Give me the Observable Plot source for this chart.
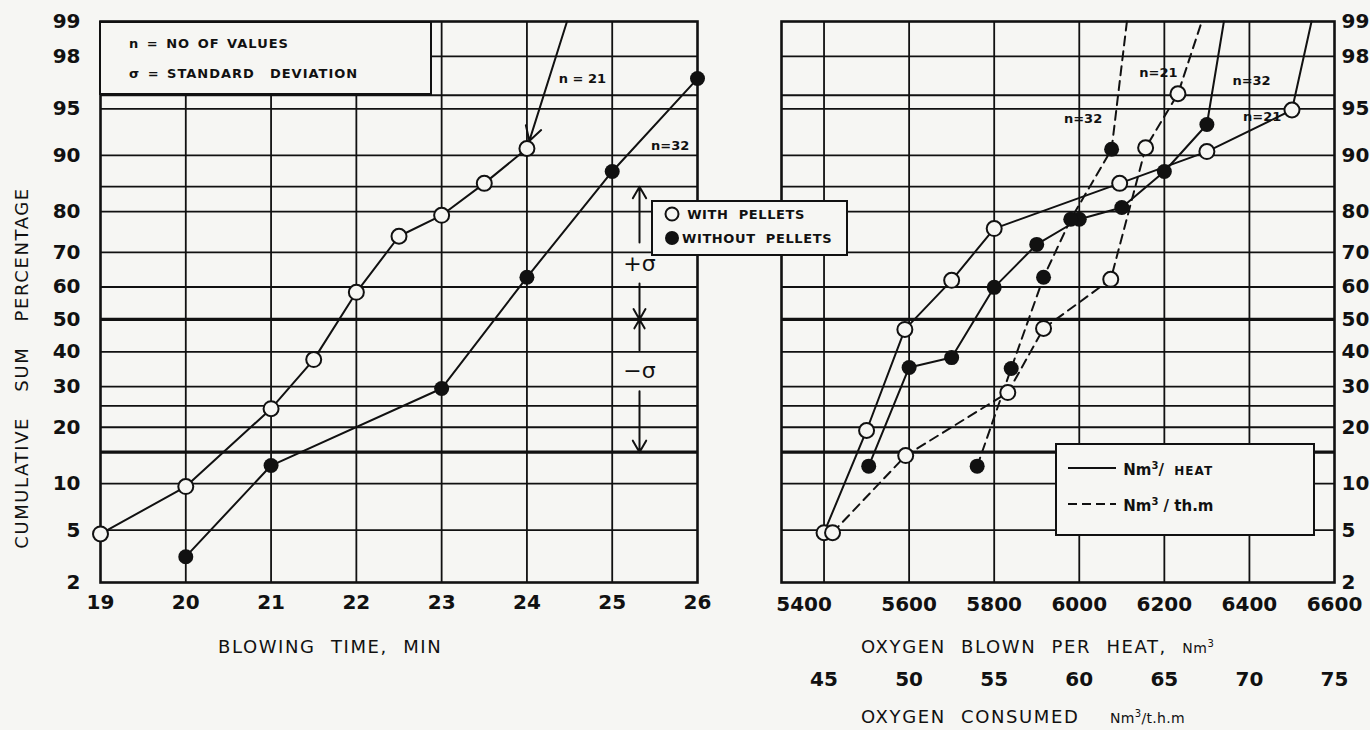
<!DOCTYPE html>
<html><head><meta charset="utf-8">
<script src="https://cdn.jsdelivr.net/npm/d3@7"></script>
<script src="https://cdn.jsdelivr.net/npm/@observablehq/plot@0.6"></script>
<style>
body{margin:0;background:#f6f6f3;}
#wrap{position:relative;width:1370px;height:730px;overflow:hidden;font-family:"DejaVu Sans",sans-serif;color:#111;}
#left,#right{position:absolute;top:0;}
#left{left:0;} #right{left:700px;}
.box{position:absolute;background:#f6f6f3;border:2px solid #111;box-sizing:border-box;z-index:5;}
.t{position:absolute;white-space:nowrap;z-index:6;}
.b13{font-size:13px;font-weight:bold;letter-spacing:1px;}
.ttl{font-size:18px;letter-spacing:1.6px;word-spacing:8px;}
</style></head><body><div id="wrap">
<div id="left"></div><div id="right"></div>
<div class="box" style="left:99px;top:21px;width:333px;height:74px;"></div>
<div class="t b13" style="left:129px;top:36px;word-spacing:2px;">n = NO OF VALUES</div>
<div class="t b13" style="left:129px;top:66px;word-spacing:2px;">σ = STANDARD&nbsp; DEVIATION</div>
<div class="box" style="left:651px;top:200px;width:197px;height:56px;"></div>
<div class="t b13" style="left:664px;top:206px;letter-spacing:0.6px;"><svg width="18" height="16" style="vertical-align:-3px"><circle cx="8" cy="8" r="6.5" fill="#f6f6f3" stroke="#111" stroke-width="2"/></svg> WITH&nbsp; PELLETS</div>
<div class="t b13" style="left:664px;top:230px;letter-spacing:0.6px;"><svg width="18" height="16" style="vertical-align:-3px"><circle cx="8" cy="8" r="7" fill="#111"/></svg>WITHOUT&nbsp; PELLETS</div>
<div class="box" style="left:1055px;top:443px;width:260px;height:93px;"></div>
<div class="t" style="left:1066px;top:460px;font-size:15px;font-weight:bold;"><svg width="52" height="10" style="vertical-align:2px"><line x1="2" x2="50" y1="5" y2="5" stroke="#111" stroke-width="2"/></svg> Nm<sup style="font-size:10px">3</sup>/ &nbsp;<span style="font-size:12px;letter-spacing:1px">HEAT</span></div>
<div class="t" style="left:1066px;top:496px;font-size:15px;font-weight:bold;"><svg width="52" height="10" style="vertical-align:2px"><line x1="2" x2="50" y1="5" y2="5" stroke="#111" stroke-width="2" stroke-dasharray="9,5"/></svg> Nm<sup style="font-size:10px">3</sup> / th.m</div>
<div class="t ttl" style="left:21px;top:368px;transform:translate(-50%,-50%) rotate(-90deg);word-spacing:18px;">CUMULATIVE SUM PERCENTAGE</div>
<div class="t ttl" style="left:218px;top:636px;">BLOWING TIME, MIN</div>
<div class="t ttl" style="left:861px;top:636px;">OXYGEN BLOWN PER HEAT, <span style="font-size:14px;letter-spacing:0.5px">Nm<sup style="font-size:10px">3</sup></span></div>
<div class="t ttl" style="left:861px;top:706px;">OXYGEN CONSUMED &nbsp;<span style="font-size:14px;letter-spacing:0.3px">Nm<sup style="font-size:10px">3</sup>/t.h.m</span></div>
</div>
<script>
// ---------- data ----------
const pctTicks = [2,5,10,20,30,40,50,60,70,80,90,95,98,99];
const pctGrid = [5,10,20,25,30,40,60,70,80,85,90,95,96,98];
const pctThick = [15,50];
const timeTicks = [19,20,21,22,23,24,25,26];
// left panel: blowing time
const timeWith = [19,20,21,21.5,22,22.5,23,23.5,24];
const pctWith  = [4.7,9.6,24.3,37.7,58.4,74.2,79.2,85.6,90.9];
const timeWithTop = 24.47;
const timeWithout = [20,21,23,24,25,26];
const pctWithout  = [3.2,12.7,29.5,62.9,87.6,97.0];
// right panel: oxygen blown per heat (Nm3)
const o2Ticks = [5400,5600,5800,6000,6200,6400,6600];
const thmTicks = [45,50,55,60,65,70,75];
const heatWithX = [5400,5500,5590,5700,5800,6095,6300,6500];
const heatWithP = [4.8,19.3,46.9,62.0,76.1,85.6,90.5,94.9];
const heatWithTop = 6546;
const heatWithoutX = [5505,5600,5700,5800,5900,6000,6100,6200,6300];
const heatWithoutP = [12.6,35.4,38.3,59.9,72.1,78.3,80.9,87.6,93.6];
const heatWithoutTop = 6340;
// oxygen consumed (Nm3/t.h.m)
const thmWithX = [45.5,49.8,55.8,57.9,61.85,63.9,65.8];
const thmWithP = [4.8,14.4,28.4,47.2,62.3,91.0,96.1];
const thmWithTop = 67.2;
const thmWithoutX = [54.0,56.0,57.9,59.5,61.9];
const thmWithoutP = [12.6,35.1,62.9,78.3,90.8];
const thmWithoutTop = 62.8;

// ---------- helpers ----------
function probit(p){
 const a=[-3.969683028665376e+01,2.209460984245205e+02,-2.759285104469687e+02,1.383577518672690e+02,-3.066479806614716e+01,2.506628277459239e+00];
 const b=[-5.447609879822406e+01,1.615858368580409e+02,-1.556989798598866e+02,6.680131188771972e+01,-1.328068155288572e+01];
 const c=[-7.784894002430293e-03,-3.223964580411365e-01,-2.400758277161838e+00,-2.549732539343734e+00,4.374664141464968e+00,2.938163982698783e+00];
 const d=[7.784695709041462e-03,3.224671290700398e-01,2.445134137142996e+00,3.754408661907416e+00];
 const pl=0.02425, ph=1-pl; let q,r;
 if(p<pl){q=Math.sqrt(-2*Math.log(p));return (((((c[0]*q+c[1])*q+c[2])*q+c[3])*q+c[4])*q+c[5])/((((d[0]*q+d[1])*q+d[2])*q+d[3])*q+1);}
 if(p>ph){q=Math.sqrt(-2*Math.log(1-p));return -(((((c[0]*q+c[1])*q+c[2])*q+c[3])*q+c[4])*q+c[5])/((((d[0]*q+d[1])*q+d[2])*q+d[3])*q+1);}
 q=p-0.5;r=q*q;return (((((a[0]*r+a[1])*r+a[2])*r+a[3])*r+a[4])*r+a[5])*q/(((((b[0]*r+b[1])*r+b[2])*r+b[3])*r+b[4])*r+1);
}
const Z = p => probit(p/100);
const zTicks = pctTicks.map(Z);
const zLabel = new Map(pctTicks.map(p => [Z(p), String(p)]));
const toO2 = v => 5400 + (v - 45) * 40;   // Nm3/t.h.m -> Nm3 axis
const rows = (xs, ps) => xs.map((x, i) => ({x, z: Z(ps[i])}));
const ink = "#111", bg = "#f6f6f3";
const font = {background:"transparent", fontFamily:"DejaVu Sans, sans-serif", color:ink, overflow:"visible"};
const tickFont = {fontSize: 20, fontWeight: "bold"};

const withRows = rows(timeWith, pctWith);
const withoutRows = rows(timeWithout, pctWithout);
const leftLabels = [{x:24.65, z:Z(97.0), t:"n = 21"}, {x:25.68, z:Z(91.2), t:"n=32"}];
const sigmaX = 25.32;
const sigmaSegs = [
  {a:0.6, b:Z(85)}, {a:0.28, b:0.0},
  {a:-0.24, b:0.0}, {a:-0.56, b:Z(15)}
];
const sigmaText = [{z:0.43, t:"+σ"}, {z:-0.40, t:"−σ"}];

const left = Plot.plot({
  width: 760, height: 730,
  marginLeft: 100, marginRight: 63, marginTop: 21, marginBottom: 148,
  x: {domain: [19, 26]},
  y: {domain: [Z(2), Z(99)]},
  style: font,
  marks: [
    Plot.ruleY(pctGrid, {y: Z, stroke: ink, strokeWidth: 1.8}),
    Plot.ruleY(pctThick, {y: Z, stroke: ink, strokeWidth: 3.2}),
    Plot.ruleX(timeTicks.slice(1, -1), {stroke: ink, strokeWidth: 1.8}),
    Plot.frame({stroke: ink, strokeWidth: 2.6}),
    Plot.axisY(zTicks, {tickSize: 0, tickPadding: 20, ...tickFont, tickFormat: z => zLabel.get(z), label: null}),
    Plot.axisX(timeTicks, {tickSize: 0, tickPadding: 12, ...tickFont, tickFormat: d => String(d), label: null}),
    Plot.line(withRows, {x: "x", y: "z", stroke: ink, strokeWidth: 2}),
    Plot.line(withoutRows, {x: "x", y: "z", stroke: ink, strokeWidth: 2}),
    Plot.arrow([{x1: timeWithTop, y1: Z(99), x2: timeWith.at(-1), y2: Z(pctWith.at(-1))}],
      {x1: "x1", y1: "y1", x2: "x2", y2: "y2", stroke: ink, strokeWidth: 2, insetEnd: 8, headLength: 12}),
    Plot.dot(withRows, {x: "x", y: "z", r: 7.5, fill: bg, stroke: ink, strokeWidth: 2}),
    Plot.dot(withoutRows, {x: "x", y: "z", r: 7.5, fill: ink}),
    Plot.text(leftLabels, {x: "x", y: "z", text: "t", fontSize: 13, fontWeight: "bold", fill: ink}),
    Plot.arrow(sigmaSegs, {x1: () => sigmaX, x2: () => sigmaX, y1: "a", y2: "b", stroke: ink, strokeWidth: 2, headLength: 10}),
    Plot.text(sigmaText, {x: () => sigmaX, y: "z", text: "t", fontSize: 22, fill: ink})
  ]
});
document.getElementById("left").append(left);

const aRows = rows(heatWithX, heatWithP);
const bRows = rows(heatWithoutX, heatWithoutP);
const cRows = rows(thmWithX.map(toO2), thmWithP);
const dRows = rows(thmWithoutX.map(toO2), thmWithoutP);
const ext = (r, top) => [...r, {x: top, z: Z(99)}];
const rightLabels = [
  {x: 6430, z: Z(94.3), t: "n=21"}, {x: 6405, z: Z(96.9), t: "n=32"},
  {x: 6186, z: Z(97.3), t: "n=21"}, {x: 6009, z: Z(94.1), t: "n=32"}
];

const right = Plot.plot({
  width: 670, height: 730,
  marginLeft: 81, marginRight: 36, marginTop: 21, marginBottom: 148,
  x: {domain: [5300, 6600]},
  y: {domain: [Z(2), Z(99)]},
  style: font,
  marks: [
    Plot.ruleY(pctGrid, {y: Z, stroke: ink, strokeWidth: 1.8}),
    Plot.ruleY(pctThick, {y: Z, stroke: ink, strokeWidth: 3.2}),
    Plot.ruleX(o2Ticks.slice(0, -1), {stroke: ink, strokeWidth: 1.8}),
    Plot.frame({stroke: ink, strokeWidth: 2.6}),
    Plot.axisY(zTicks, {anchor: "right", tickSize: 0, tickPadding: 7, ...tickFont, tickFormat: z => zLabel.get(z), label: null}),
    Plot.axisX(o2Ticks.slice(1), {tickSize: 0, tickPadding: 14, ...tickFont, tickFormat: d => String(d), label: null}),
    Plot.axisX(o2Ticks.slice(0, 1), {tickSize: 0, tickPadding: 14, ...tickFont, tickFormat: d => String(d), dx: -20, label: null}),
    Plot.text(thmTicks, {x: toO2, text: d => String(d), frameAnchor: "bottom", dy: 103, ...tickFont, fill: ink}),
    Plot.line(ext(aRows, heatWithTop), {x: "x", y: "z", stroke: ink, strokeWidth: 2}),
    Plot.line(ext(bRows, heatWithoutTop), {x: "x", y: "z", stroke: ink, strokeWidth: 2}),
    Plot.line(ext(cRows, toO2(thmWithTop)), {x: "x", y: "z", stroke: ink, strokeWidth: 2, strokeDasharray: "9,6"}),
    Plot.line(ext(dRows, toO2(thmWithoutTop)), {x: "x", y: "z", stroke: ink, strokeWidth: 2, strokeDasharray: "9,6"}),
    Plot.dot([...aRows, ...cRows], {x: "x", y: "z", r: 7.5, fill: bg, stroke: ink, strokeWidth: 2}),
    Plot.dot([...bRows, ...dRows], {x: "x", y: "z", r: 7.5, fill: ink}),
    Plot.text(rightLabels, {x: "x", y: "z", text: "t", fontSize: 13, fontWeight: "bold", fill: ink})
  ]
});
document.getElementById("right").append(right);
</script>
</body></html>
